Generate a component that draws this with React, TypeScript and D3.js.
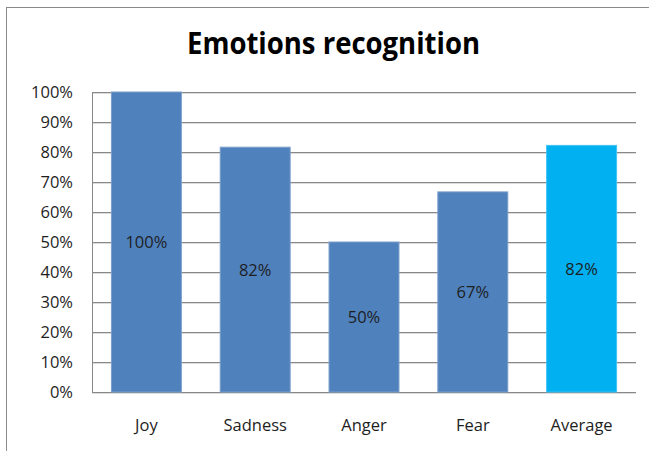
import React from "react";
import * as d3 from "d3";

const categories = ["Joy", "Sadness", "Anger", "Fear", "Average"];
const values = [1.0, 0.816, 0.5, 0.667, 0.822];
const yTicks = [0, 0.1, 0.2, 0.3, 0.4, 0.5, 0.6, 0.7, 0.8, 0.9, 1.0];
const title = "Emotions recognition";

const W = 649;
const H = 451;
const left = 92;
const right = 636;
const top = 92;
const bottom = 392;
const font = "'Open Sans', 'Noto Sans', sans-serif";

export default function App() {
  const x = d3
    .scaleBand<string>()
    .domain(categories)
    .range([left, right])
    .paddingInner(0.357)
    .paddingOuter(0.1785);
  const y = d3.scaleLinear().domain([0, 1]).range([bottom, top]);
  const fmt = d3.format(".0%");

  return (
    <svg
      width={W}
      height={H}
      style={{ position: "absolute", left: 0, top: 0, background: "#fff" }}
    >
      <rect x={0} y={0} width={W} height={H} fill="#fff" />
      <rect x={6.5} y={7.5} width={W + 10} height={H + 10} fill="none" stroke="#8a8a8a" strokeWidth={1} />
      <text
        x={333.5}
        y={54}
        textAnchor="middle"
        fontFamily={font}
        fontWeight={700}
        fontSize={30}
        textLength={293}
        lengthAdjust="spacingAndGlyphs"
        fill="#000"
      >
        {title}
      </text>
      {yTicks.map((t) => (
        <g key={t}>
          <line x1={left} x2={right} y1={Math.round(y(t)) + 1.5} y2={Math.round(y(t)) + 1.5} stroke="#dcdcdc" />
          <line x1={left} x2={right} y1={Math.round(y(t)) + 0.5} y2={Math.round(y(t)) + 0.5} stroke="#888" />
          <text
            x={73}
            y={y(t)}
            dy="0.36em"
            textAnchor="end"
            fontFamily={font}
            fontSize={16.5}
            fill="#1e1e1e"
          >
            {fmt(t)}
          </text>
        </g>
      ))}
      <line x1={left + 0.5} x2={left + 0.5} y1={top} y2={bottom + 1} stroke="#888" />
      {categories.map((c, i) => {
        const bx = x(c)!;
        const bw = x.bandwidth();
        const yt = y(values[i]);
        const color = c === "Average" ? "#00B0F0" : "#4F81BD";
        const edge = c === "Average" ? "#3fc3f3" : "#7c9fca";
        return (
          <g key={c}>
            <rect x={bx} y={yt} width={bw} height={bottom - yt} fill={color} stroke={edge} strokeWidth={1} />
            <text
              x={bx + bw / 2}
              y={(yt + bottom) / 2}
              dy="0.36em"
              textAnchor="middle"
              fontFamily={font}
              fontSize={16.5}
              fill="#1e1e1e"
            >
              {fmt(values[i])}
            </text>
            <text
              x={bx + bw / 2}
              y={431}
              textAnchor="middle"
              fontFamily={font}
              fontSize={16.5}
              fill="#1e1e1e"
            >
              {c}
            </text>
          </g>
        );
      })}
    </svg>
  );
}
